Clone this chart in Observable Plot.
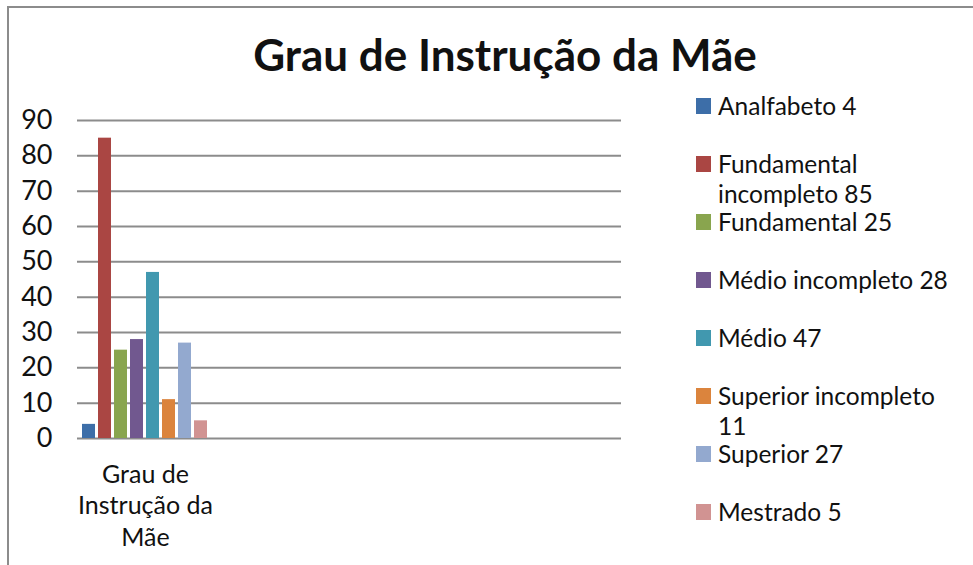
<!DOCTYPE html>
<html>
<head>
<meta charset="utf-8">
<script src="https://cdn.jsdelivr.net/npm/d3@7"></script>
<script src="https://cdn.jsdelivr.net/npm/@observablehq/plot@0.6"></script>
<style>
  html, body { margin: 0; padding: 0; background: #fff; }
  #wrap { position: relative; width: 973px; height: 565px; overflow: hidden; font-family: Lato, "Open Sans", sans-serif; color: #111; }
  #frame { position: absolute; left: 7px; top: 6px; width: 980px; height: 570px; border-top: 2px solid #8c8c8c; border-left: 2px solid #8c8c8c; }
  #title { position: absolute; left: 0; width: 1010px; top: 26px; text-align: center; font-weight: bold; font-size: 44px; line-height: 56px; color: #111; }
  #chart { position: absolute; left: 0; top: 0; }
  #legend { position: absolute; left: 696px; top: 91px; width: 262px; }
  .item { position: relative; height: 58px; padding-left: 22px; font-size: 24.5px; line-height: 30px; }
  .sw { position: absolute; left: 0; top: 7px; width: 15px; height: 16px; }
</style>
</head>
<body>
<div id="wrap">
  <div id="frame"></div>
  <div id="chart"></div>
  <div id="title"></div>
  <div id="legend"></div>
</div>
<script>
const titleText = "Grau de Instrução da Mãe";
const categories = ["Grau de Instrução da Mãe", "", " ", "  "];
const categoryLabels = ["Grau de\nInstrução da\nMãe", "", "", ""];
const series = ["Analfabeto", "Fundamental incompleto", "Fundamental", "Médio incompleto", "Médio", "Superior incompleto", "Superior", "Mestrado"];
const values = [4, 85, 25, 28, 47, 11, 27, 5];
const colors = ["#3D6EA8", "#AA4643", "#89A54E", "#71588F", "#4198AF", "#DB843D", "#93A9CF", "#D19392"];
const yTicks = [0, 10, 20, 30, 40, 50, 60, 70, 80, 90];

const bars = series.map((s, i) => ({cat: categories[0], series: s, value: values[i]}));
const grid = categories.flatMap(c => yTicks.map(t => ({cat: c, tick: t})));
const catRows = categories.map((c, i) => ({cat: c, label: categoryLabels[i]}));

document.getElementById("title").textContent = titleText;

const chart = Plot.plot({
  width: 973,
  height: 565,
  marginLeft: 77,
  marginRight: 352,
  marginTop: 120,
  marginBottom: 127,
  style: {fontFamily: "Lato, 'Open Sans', sans-serif", fontSize: "27px", color: "#111", background: "transparent", overflow: "visible"},
  fx: {domain: categories, paddingInner: 0, paddingOuter: 0, axis: null},
  x: {domain: series, paddingInner: 0.167, paddingOuter: 0.283, axis: null},
  y: {domain: [0, 90], ticks: yTicks, tickSize: 0, tickPadding: 25, label: null, grid: false},
  color: {domain: series, range: colors},
  marks: [
    Plot.ruleY(grid, {fx: "cat", y: "tick", stroke: "#8c8c8c", strokeWidth: 2, strokeOpacity: 1}),
    Plot.barY(bars, {fx: "cat", x: "series", y: "value", fill: "series"}),
    Plot.text(catRows, {fx: "cat", text: "label", frameAnchor: "bottom", lineAnchor: "top", dy: 22, lineHeight: 1.26, fontSize: 25, fill: "#111"})
  ]
});
document.getElementById("chart").appendChild(chart);

const legend = document.getElementById("legend");
series.forEach((s, i) => {
  const item = document.createElement("div");
  item.className = "item";
  const sw = document.createElement("span");
  sw.className = "sw";
  sw.style.background = colors[i];
  item.appendChild(sw);
  item.appendChild(document.createTextNode(s + " " + values[i]));
  legend.appendChild(item);
});
</script>
</body>
</html>
